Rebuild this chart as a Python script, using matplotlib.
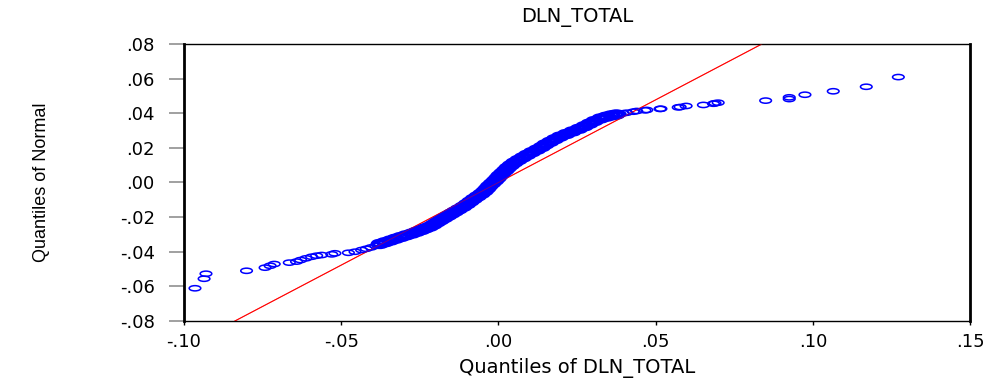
# -*- coding: utf-8 -*-
# Grafico quantil-quantil de DLN_TOTAL contra a distribuicao normal
import numpy as np
import matplotlib.pyplot as plt
from matplotlib.path import Path
from matplotlib.transforms import Affine2D

# Quantis da serie (eixo x) e quantis da normal (eixo y)
# cauda esquerda
q_serie_esq = [-0.0965, -0.0936, -0.0930, -0.0801, -0.0742, -0.0726, -0.0713,
               -0.0665, -0.0642, -0.0629, -0.0612, -0.0594, -0.0578, -0.0562,
               -0.0530, -0.0520, -0.0477, -0.0456, -0.0435, -0.0420, -0.0405,
               -0.0390]
q_normal_esq = [-0.0611, -0.0556, -0.0527, -0.0510, -0.0492, -0.0481, -0.0471,
                -0.0463, -0.0457, -0.0448, -0.0438, -0.0429, -0.0423, -0.0419,
                -0.0415, -0.0409, -0.0406, -0.0400, -0.0390, -0.0383, -0.0375,
                -0.0366]

# parte central (muitos pontos sobrepostos)
q_serie_meio = [-0.0377, -0.0360, -0.0343, -0.0327, -0.0310, -0.0293, -0.0275,
                -0.0260, -0.0245, -0.0232, -0.0218, -0.0206, -0.0195, -0.0184,
                -0.0172, -0.0160, -0.0149, -0.0138, -0.0126, -0.0112, -0.0100,
                -0.0089, -0.0078, -0.0066, -0.0054, -0.0044, -0.0036, -0.0029,
                -0.0020, -0.0011, -0.0003, 0.0004, 0.0013, 0.0022, 0.0030,
                0.0040, 0.0051, 0.0064, 0.0078, 0.0092, 0.0107, 0.0123, 0.0138,
                0.0150, 0.0165, 0.0180, 0.0196, 0.0216, 0.0236, 0.0256, 0.0274,
                0.0290, 0.0306, 0.0325, 0.0343, 0.0360, 0.0375]
q_normal_meio = [-0.0355, -0.0345, -0.0335, -0.0325, -0.0315, -0.0305, -0.0295,
                 -0.0285, -0.0275, -0.0265, -0.0255, -0.0243, -0.0230, -0.0218,
                 -0.0205, -0.0192, -0.0180, -0.0168, -0.0155, -0.0140, -0.0125,
                 -0.0110, -0.0095, -0.0080, -0.0065, -0.0050, -0.0035, -0.0020,
                 -0.0005, 0.0010, 0.0025, 0.0040, 0.0055, 0.0070, 0.0085,
                 0.0100, 0.0115, 0.0130, 0.0145, 0.0160, 0.0175, 0.0190, 0.0205,
                 0.0220, 0.0235, 0.0250, 0.0265, 0.0280, 0.0295, 0.0310, 0.0325,
                 0.0340, 0.0355, 0.0370, 0.0380, 0.0388, 0.0393]

# cauda direita
q_serie_dir = [0.0387, 0.0397, 0.0408, 0.0429, 0.0440, 0.0466, 0.0472, 0.0514,
               0.0517, 0.0572, 0.0578, 0.0597, 0.0652, 0.0684, 0.0689, 0.0699,
               0.0850, 0.0925, 0.0925, 0.0975, 0.1065, 0.1170, 0.1272]
q_normal_dir = [0.0396, 0.0400, 0.0403, 0.0409, 0.0413, 0.0417, 0.0419, 0.0425,
                0.0426, 0.0434, 0.0436, 0.0442, 0.0448, 0.0455, 0.0458, 0.0461,
                0.0473, 0.0482, 0.0492, 0.0507, 0.0527, 0.0553, 0.0609]

reta_x = [-0.0838, 0.0838]
reta_y = [-0.08, 0.08]

x_ticks = [-0.10, -0.05, 0.00, 0.05, 0.10, 0.15]
x_labels = ['-.10', '-.05', '.00', '.05', '.10', '.15']
y_ticks = [-0.08, -0.06, -0.04, -0.02, 0.00, 0.02, 0.04, 0.06, 0.08]
y_labels = ['-.08', '-.06', '-.04', '-.02', '.00', '.02', '.04', '.06', '.08']

X_caudas = np.array(q_serie_esq + q_serie_dir)
Y_caudas = np.array(q_normal_esq + q_normal_dir)

# marcador eliptico (circulo achatado)
elipse = Affine2D().scale(1.0, 0.45).transform_path(Path.unit_circle())

fig = plt.figure(figsize=(9.95, 3.8), dpi=100)
ax = fig.add_axes([0.1849, 0.1553, 0.79, 0.7289])

ax.plot(reta_x, reta_y, color='red', linewidth=0.8, zorder=2)
ax.scatter(X_caudas, Y_caudas, marker=elipse, s=70, facecolors='none',
           edgecolors='blue', linewidths=1.1, zorder=3)
# no meio os circulos se sobrepoem e formam uma faixa cheia
ax.scatter(q_serie_meio, q_normal_meio, marker=elipse, s=110, facecolors='none',
           edgecolors='blue', linewidths=2.8, zorder=3)
# a reta aparece por cima da faixa perto da origem
ax.plot(reta_x, reta_y, color='red', linewidth=0.6, alpha=0.5, zorder=4)

ax.set_xlim(-0.10, 0.15)
ax.set_ylim(-0.08, 0.08)

ax.set_xticks(x_ticks)
ax.set_xticklabels(x_labels, fontsize=13, family='DejaVu Sans')
ax.set_yticks(y_ticks)
ax.set_yticklabels(y_labels, fontsize=13, family='DejaVu Sans')
ax.tick_params(axis='x', direction='out', length=3, width=1, pad=6, color='black')
ax.tick_params(axis='y', direction='out', length=11, width=1.3, pad=10, color='#999999')

for lado in ['left', 'right']:
    ax.spines[lado].set_linewidth(2)
for lado in ['top', 'bottom']:
    ax.spines[lado].set_linewidth(1)

ax.set_title('DLN_TOTAL', fontsize=14, family='DejaVu Sans', pad=16)
ax.set_xlabel('Quantiles of DLN_TOTAL', fontsize=14, family='DejaVu Sans', labelpad=5)
ax.set_ylabel('Quantiles of Normal', fontsize=13,
              family=['Liberation Sans', 'DejaVu Sans'], labelpad=50)

fig.savefig('out.png', dpi=100)
